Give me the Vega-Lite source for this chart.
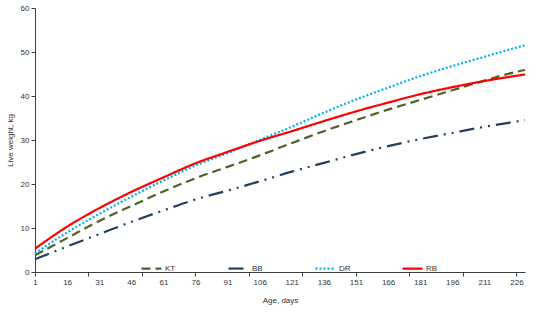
{
  "$schema": "https://vega.github.io/schema/vega-lite/v6.json",
  "autosize": {"type": "none"},
  "width": 490,
  "height": 264,
  "padding": {"left": 35, "top": 8, "right": 15, "bottom": 41},
  "background": "white",
  "config": {
    "view": {"stroke": null},
    "font": "Liberation Sans",
    "axis": {"grid": false, "domainColor": "#404040", "tickColor": "#404040", "labelColor": "#333333", "titleColor": "#333333", "labelFontSize": 8, "titleFontSize": 8, "titleFontWeight": "normal", "labelFont": "Liberation Sans", "titleFont": "Liberation Sans"}
  },
  "data": {"values": [
    {"day": 1, "breed": "KT", "w": 3.8}, {"day": 16, "breed": "KT", "w": 7.7}, {"day": 31, "breed": "KT", "w": 11.6}, {"day": 46, "breed": "KT", "w": 15.0}, {"day": 61, "breed": "KT", "w": 18.3}, {"day": 76, "breed": "KT", "w": 21.3}, {"day": 91, "breed": "KT", "w": 23.9}, {"day": 106, "breed": "KT", "w": 26.5}, {"day": 121, "breed": "KT", "w": 29.3}, {"day": 136, "breed": "KT", "w": 32.0}, {"day": 151, "breed": "KT", "w": 34.5}, {"day": 166, "breed": "KT", "w": 36.9}, {"day": 181, "breed": "KT", "w": 39.1}, {"day": 196, "breed": "KT", "w": 41.3}, {"day": 211, "breed": "KT", "w": 43.5}, {"day": 226, "breed": "KT", "w": 45.5}, {"day": 230, "breed": "KT", "w": 45.9},
    {"day": 1, "breed": "BB", "w": 2.9}, {"day": 16, "breed": "BB", "w": 5.8}, {"day": 31, "breed": "BB", "w": 8.6}, {"day": 46, "breed": "BB", "w": 11.4}, {"day": 61, "breed": "BB", "w": 14.0}, {"day": 76, "breed": "BB", "w": 16.5}, {"day": 91, "breed": "BB", "w": 18.5}, {"day": 106, "breed": "BB", "w": 20.6}, {"day": 121, "breed": "BB", "w": 22.8}, {"day": 136, "breed": "BB", "w": 24.8}, {"day": 151, "breed": "BB", "w": 26.8}, {"day": 166, "breed": "BB", "w": 28.6}, {"day": 181, "breed": "BB", "w": 30.2}, {"day": 196, "breed": "BB", "w": 31.6}, {"day": 211, "breed": "BB", "w": 33.0}, {"day": 226, "breed": "BB", "w": 34.2}, {"day": 230, "breed": "BB", "w": 34.5},
    {"day": 1, "breed": "DR", "w": 4.2}, {"day": 16, "breed": "DR", "w": 9.0}, {"day": 31, "breed": "DR", "w": 13.2}, {"day": 46, "breed": "DR", "w": 17.1}, {"day": 61, "breed": "DR", "w": 20.8}, {"day": 76, "breed": "DR", "w": 24.2}, {"day": 91, "breed": "DR", "w": 27.0}, {"day": 106, "breed": "DR", "w": 30.0}, {"day": 121, "breed": "DR", "w": 33.0}, {"day": 136, "breed": "DR", "w": 36.2}, {"day": 151, "breed": "DR", "w": 39.2}, {"day": 166, "breed": "DR", "w": 41.9}, {"day": 181, "breed": "DR", "w": 44.5}, {"day": 196, "breed": "DR", "w": 46.8}, {"day": 211, "breed": "DR", "w": 48.9}, {"day": 226, "breed": "DR", "w": 51.0}, {"day": 230, "breed": "DR", "w": 51.5},
    {"day": 1, "breed": "RB", "w": 5.3}, {"day": 16, "breed": "RB", "w": 10.3}, {"day": 31, "breed": "RB", "w": 14.5}, {"day": 46, "breed": "RB", "w": 18.2}, {"day": 61, "breed": "RB", "w": 21.5}, {"day": 76, "breed": "RB", "w": 24.7}, {"day": 91, "breed": "RB", "w": 27.3}, {"day": 106, "breed": "RB", "w": 29.8}, {"day": 121, "breed": "RB", "w": 32.0}, {"day": 136, "breed": "RB", "w": 34.3}, {"day": 151, "breed": "RB", "w": 36.5}, {"day": 166, "breed": "RB", "w": 38.5}, {"day": 181, "breed": "RB", "w": 40.4}, {"day": 196, "breed": "RB", "w": 42.0}, {"day": 211, "breed": "RB", "w": 43.4}, {"day": 226, "breed": "RB", "w": 44.6}, {"day": 230, "breed": "RB", "w": 44.9}
  ]},
  "mark": {"type": "line", "interpolate": "monotone", "strokeCap": "butt"},
  "encoding": {
    "x": {
      "field": "day", "type": "quantitative",
      "scale": {"domain": [1, 230], "nice": false, "zero": false},
      "axis": {
        "title": "Age, days",
        "values": [1, 16, 26, 31, 46, 51, 61, 76, 91, 101, 106, 121, 126, 136, 151, 166, 176, 181, 196, 201, 211, 226],
        "labelExpr": "(datum.value - 1) % 15 == 0 ? datum.label : ''",
        "tickOpacity": {"condition": {"test": "(datum.value - 1) % 25 == 0", "value": 1}, "value": 0},
        "labelOverlap": false,
        "labelFlush": false,
        "tickSize": 4,
        "labelPadding": 2,
        "titlePadding": 10
      }
    },
    "y": {
      "field": "w", "type": "quantitative",
      "scale": {"domain": [0, 60], "nice": false},
      "axis": {"title": "Live weight, kg", "values": [0, 10, 20, 30, 40, 50, 60], "tickSize": 4, "labelPadding": 2, "titlePadding": 6}
    },
    "color": {
      "field": "breed", "type": "nominal",
      "scale": {"domain": ["KT", "BB", "DR", "RB"], "range": ["#4F6228", "#243F60", "#00B0F0", "#FF0000"]},
      "legend": {
        "title": null, "orient": "none", "direction": "horizontal", "columns": 4,
        "legendX": 105, "legendY": 249, "symbolType": "stroke", "symbolSize": 400,
        "symbolStrokeWidth": 2.5, "labelFontSize": 8, "labelColor": "#333333", "labelOffset": 2,
        "columnPadding": 47, "gridAlign": "all", "labelFont": "Liberation Sans"
      }
    },
    "strokeDash": {
      "field": "breed", "type": "nominal",
      "scale": {"domain": ["KT", "BB", "DR", "RB"], "range": [[9, 5], [15, 6, 2, 6, 2, 6], [2, 2], [1, 0]]}
    },
    "strokeWidth": {
      "field": "breed", "type": "nominal",
      "scale": {"domain": ["KT", "BB", "DR", "RB"], "range": [2.2, 2.2, 2.2, 2.5]}
    }
  }
}
